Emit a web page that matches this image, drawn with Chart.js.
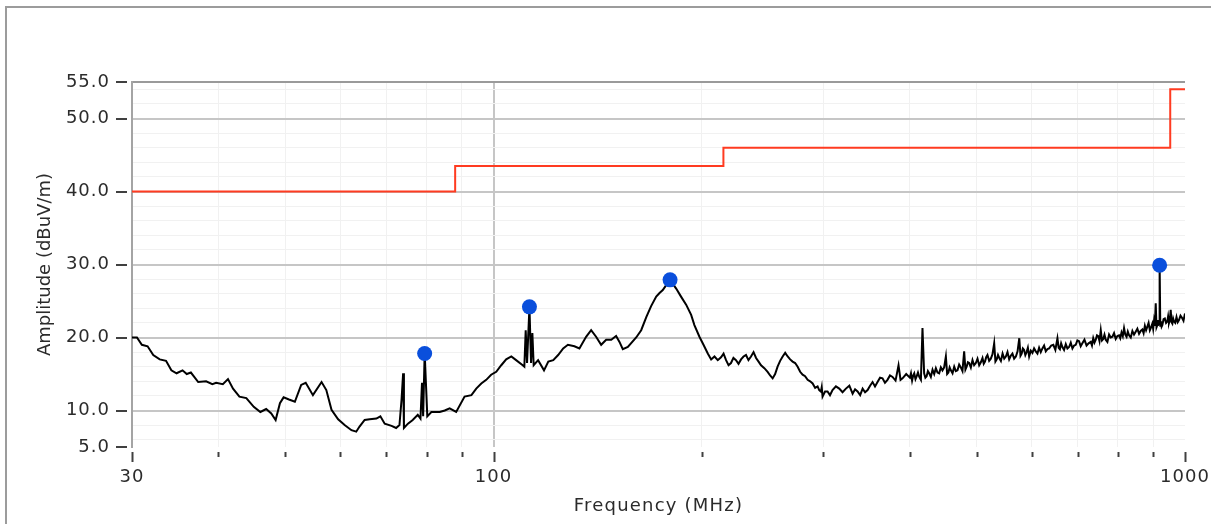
<!DOCTYPE html>
<html>
<head>
<meta charset="utf-8">
<script src="https://cdn.jsdelivr.net/npm/chart.js@4/dist/chart.umd.min.js"></script>
<style>
  html, body { margin: 0; padding: 0; background: #fff; overflow: hidden; }
  #frame { position: absolute; left: 5px; top: 6px; width: 1300px; height: 700px;
           border-left: 2px solid #9c9c9c; border-top: 2px solid #9c9c9c; }
  #wrap { position: absolute; left: 0; top: 0; width: 1211px; height: 524px; }
</style>
</head>
<body>
<div id="frame"></div>
<div id="wrap"><canvas id="emi" width="1211" height="524"></canvas></div>
<script>
// measured trace (MHz / dBuV/m), ten points per row
const traceFreq = [
  30, 30.5, 31.0, 31.6, 32.2, 32.9, 33.6, 34.2, 34.8, 35.5,
  36.0, 36.5, 37.4, 38.4, 39.2, 39.7, 40.6, 41.3, 42.0, 42.9,
  43.9, 45.0, 46.0, 46.9, 47.7, 48.4, 49.1, 49.7, 50.6, 51.6,
  52.7, 53.5, 54.8, 56.4, 57.3, 58.3, 59.6, 60.9, 62.3, 63.3,
  64.0, 65.1, 66.2, 67.7, 68.6, 69.6, 71.2, 72.3, 73.1, 73.6,
  74.0, 74.2, 75.2, 76.4, 77.7, 78.4, 78.8, 79.1, 79.5, 79.9,
  80.2, 81.3, 83.6, 85.0, 86.4, 88.3, 90.8, 92.9, 94.4, 96.0,
  97.6, 99.2, 100.9, 102.6, 104.3, 106.1, 107.8, 110.2, 110.8, 111.3,
  111.8, 112.7, 113.3, 113.8, 114.3, 116.0, 118.3, 120.0, 122.0, 124.0,
  126.1, 128.1, 130.9, 133.1, 136.1, 138.4, 140.7, 143.1, 145.5, 148.0,
  150.4, 152.1, 153.8, 156.4, 160.8, 163.5, 166.3, 169.0, 171.9, 173.8,
  175.7, 177.8, 180.0, 183.7, 186.7, 189.9, 193.1, 195.2, 198.5, 201.2,
  204.1, 206.4, 208.7, 211.0, 213.3, 215.1, 216.9, 218.7, 220.5, 222.3,
  224.2, 226.1, 228.0, 229.9, 231.8, 233.7, 235.7, 237.7, 239.7, 241.7,
  243.7, 246.4, 249.1, 251.2, 253.3, 255.4, 257.5, 259.7, 261.9, 264.1,
  266.3, 268.5, 270.7, 273.0, 275.3, 277.6, 279.9, 282.2, 284.6, 287.0,
  289.4, 291.8, 294.2, 295.8, 297.5, 298.3, 299.1, 301.6, 304.1, 306.6,
  309.2, 312.7, 316.2, 319.7, 323.3, 327.0, 330.6, 333.3, 336.1, 339.0,
  341.8, 344.6, 347.5, 350.4, 353.3, 356.2, 359.2, 362.2, 365.2, 368.2,
  371.3, 374.4, 377.6, 381.4, 385.2, 387.8, 390.4, 395.2, 400.0, 401.5,
  403.0, 404.5, 405.9, 407.6, 409.3, 411.0, 412.8, 415.0, 417.2, 419.5,
  421.2, 423.0, 424.8, 426.6, 429.0, 431.4, 433.8, 436.2, 438.6, 441.0,
  443.5, 445.9, 448.4, 451.0, 452.9, 454.8, 456.7, 458.6, 461.1, 463.7,
  466.2, 468.8, 471.4, 474.0, 476.6, 479.3, 481.3, 483.3, 485.3, 487.4,
  490.1, 492.8, 495.5, 498.3, 501.1, 503.9, 506.7, 509.5, 511.6, 513.7,
  515.8, 518.0, 520.9, 523.8, 526.7, 529.7, 531.9, 534.2, 536.5, 538.8,
  541.7, 544.7, 547.7, 550.7, 553.7, 556.8, 559.8, 562.9, 566.1, 569.4,
  572.6, 575.9, 578.2, 580.5, 582.8, 585.2, 587.6, 590.1, 592.6, 595.1,
  598.4, 601.7, 605.0, 608.4, 611.8, 615.2, 618.6, 622.0, 625.5, 629.0,
  632.5, 636.1, 640.5, 645.0, 649.4, 653.9, 656.6, 659.3, 662.0, 664.8,
  668.5, 672.3, 676.0, 679.8, 683.6, 687.4, 691.2, 695.0, 698.8, 702.7,
  706.6, 710.5, 715.5, 720.5, 725.5, 730.6, 733.6, 736.7, 739.8, 742.9,
  746.0, 749.1, 752.2, 755.4, 758.5, 761.7, 764.8, 768.0, 772.3, 776.6,
  780.9, 785.2, 789.6, 794.0, 798.4, 802.8, 806.1, 809.5, 812.9, 816.3,
  819.7, 823.2, 826.6, 830.1, 834.7, 839.3, 843.9, 848.6, 853.3, 858.1,
  862.8, 867.6, 871.2, 874.9, 878.5, 882.2, 885.8, 889.5, 893.2, 896.9,
  899.4, 902.0, 904.5, 907.1, 909.5, 912.0, 913.8, 915.5, 917.2, 919.0,
  921.0, 923.0, 925.1, 927.3, 931.1, 935.0, 938.9, 942.8, 945.4, 948.1,
  950.8, 953.5, 956.1, 958.8, 961.4, 964.1, 968.1, 972.1, 976.1, 980.2,
  985.1, 990.0, 995.0, 1000
];
const traceAmp = [
  20.0, 20.0, 19.0, 18.8, 17.6, 17.0, 16.8, 15.5, 15.1, 15.5,
  15.0, 15.2, 13.9, 14.0, 13.6, 13.8, 13.6, 14.3, 13.0, 11.9,
  11.7, 10.5, 9.8, 10.2, 9.6, 8.7, 11.0, 11.8, 11.5, 11.2,
  13.5, 13.8, 12.1, 13.9, 12.8, 10.1, 8.8, 8.0, 7.3, 7.1,
  7.8, 8.7, 8.8, 8.9, 9.2, 8.2, 7.9, 7.6, 8.0, 11.4,
  15.1, 7.6, 8.2, 8.7, 9.4, 8.9, 13.8, 9.2, 17.8, 13.0,
  9.2, 9.8, 9.8, 10.0, 10.3, 9.8, 11.9, 12.1, 13.0, 13.7,
  14.2, 14.9, 15.3, 16.2, 17.0, 17.4, 16.9, 16.2, 16.0, 21.0,
  16.5, 24.2, 16.5, 20.6, 16.2, 16.9, 15.5, 16.7, 16.9, 17.6,
  18.5, 19.0, 18.8, 18.5, 20.1, 21.0, 20.1, 19.0, 19.7, 19.7,
  20.2, 19.4, 18.4, 18.7, 20.0, 21.0, 22.8, 24.3, 25.6, 26.1,
  26.5, 27.2, 27.9, 26.7, 25.6, 24.5, 23.1, 21.7, 20.1, 19.0,
  17.8, 17.0, 17.4, 16.9, 17.3, 17.8, 16.9, 16.2, 16.5, 17.2,
  16.9, 16.4, 17.0, 17.4, 17.6, 16.9, 17.4, 18.0, 17.2, 16.7,
  16.2, 15.8, 15.3, 14.8, 14.4, 15.0, 16.0, 16.8, 17.4, 17.9,
  17.4, 17.0, 16.7, 16.5, 16.0, 15.3, 14.9, 14.7, 14.2, 14.0,
  13.7, 13.1, 13.3, 12.8, 12.6, 13.2, 11.9, 12.6, 12.6, 12.1,
  12.8, 13.3, 13.0, 12.5, 13.0, 13.4, 12.3, 12.9, 12.6, 12.1,
  13.0, 12.5, 12.8, 13.4, 13.9, 13.3, 13.9, 14.5, 14.4, 13.8,
  14.2, 14.8, 14.6, 14.1, 16.2, 14.2, 14.4, 15.0, 14.5, 15.1,
  14.1, 14.8, 15.1, 14.3, 14.7, 15.2, 14.6, 14.2, 21.3, 15.1,
  14.5, 14.7, 15.4, 15.1, 14.6, 15.6, 15.0, 15.8, 15.2, 15.1,
  15.9, 15.5, 15.9, 17.4, 15.0, 15.2, 15.9, 15.5, 15.1, 16.0,
  15.4, 15.5, 16.3, 15.9, 15.4, 18.1, 15.6, 16.0, 16.6, 16.5,
  15.9, 16.9, 16.2, 16.5, 17.1, 16.2, 16.6, 17.2, 16.4, 16.7,
  17.3, 17.6, 16.8, 17.1, 17.7, 19.2, 16.7, 17.0, 17.6, 17.2,
  16.8, 17.8, 17.1, 17.4, 18.0, 17.0, 17.5, 17.8, 17.1, 17.4,
  18.1, 19.9, 17.5, 17.8, 18.5, 18.3, 17.6, 18.0, 18.6, 17.4,
  18.2, 17.9, 18.5, 18.1, 17.8, 18.6, 18.0, 18.5, 18.9, 18.1,
  18.4, 18.5, 18.9, 19.0, 18.3, 19.9, 18.6, 18.4, 19.2, 18.7,
  18.3, 19.1, 18.5, 18.7, 19.3, 18.5, 18.9, 19.0, 19.6, 19.5,
  18.8, 19.2, 19.7, 18.9, 19.2, 19.4, 18.9, 19.9, 19.3, 19.7,
  20.3, 20.2, 19.5, 21.0, 19.6, 19.8, 20.4, 19.7, 19.4, 20.4,
  20.0, 20.1, 20.6, 19.8, 20.2, 20.3, 19.9, 20.7, 20.2, 21.3,
  20.4, 20.1, 20.8, 20.3, 20.0, 20.9, 20.4, 20.8, 21.2, 20.5,
  20.9, 21.1, 20.6, 21.6, 21.0, 21.5, 22.0, 21.0, 21.4, 21.9,
  21.2, 22.3, 21.6, 24.7, 21.4, 21.7, 22.4, 22.0, 21.8, 29.9,
  21.6, 22.2, 21.5, 21.7, 22.5, 22.6, 22.0, 22.2, 22.9, 22.0,
  22.4, 23.8, 22.1, 21.9, 22.6, 22.2, 22.0, 22.8, 22.1, 22.4,
  23.0, 22.7, 22.3, 23.3
];

// peak markers
const peakFreq = [79.5, 112.7, 180.0, 919.0];
const peakAmp = [17.8, 24.2, 27.9, 29.9];

// limit line, each level holds until the next break frequency
const limitFreq = [30, 88, 215, 952, 1000];
const limitLevel = [40.0, 43.5, 46.0, 54.0, 54.0];

// axis ticks
const yTickValues = [5, 10, 20, 30, 40, 50, 55];
const xTickLabels = [30, 100, 1000];
const xMinorTicks = [40, 50, 60, 70, 80, 90, 200, 300, 400, 500, 600, 700, 800, 900];

const FONT = 'DejaVu Sans';
const TEXT = '#2b2b2b';

const toPoints = (xs, ys) => xs.map((x, i) => ({ x: x, y: ys[i] }));

// every 2 dB a faint line, labelled values get the darker ones
const yGrid = [];
for (let v = 5; v <= 55; v++) {
  if (yTickValues.includes(v) || v % 2 === 0) yGrid.push(v);
}
const xGrid = xTickLabels.concat(xMinorTicks).sort((a, b) => a - b);

const yGridColor = (v) => {
  if (v === 55) return '#9a9a9a';
  if (v === 5) return 'rgba(0,0,0,0)';
  if (yTickValues.includes(v)) return '#c6c6c6';
  return '#f1f1f1';
};
const xGridColor = (v) => {
  if (v === 30 || v === 1000) return 'rgba(0,0,0,0)';
  if (v === 100) return '#c6c6c6';
  return '#f1f1f1';
};

// tick dashes outside the plot, plus both axis titles
const axisDecor = {
  id: 'axisDecor',
  beforeDraw(chart) {
    chart.ctx.letterSpacing = '1px';
  },
  afterDraw(chart) {
    const { ctx, chartArea, scales } = chart;
    ctx.save();
    ctx.strokeStyle = '#404040';
    ctx.lineWidth = 2;
    yTickValues.forEach((v) => {
      const py = Math.round(scales.y.getPixelForValue(v));
      ctx.beginPath();
      ctx.moveTo(chartArea.left - 16, py);
      ctx.lineTo(chartArea.left - 5, py);
      ctx.stroke();
    });
    xGrid.forEach((v) => {
      const px = Math.round(scales.x.getPixelForValue(v)) + 0.5;
      const len = xTickLabels.includes(v) ? 10 : 5;
      ctx.beginPath();
      ctx.moveTo(px, chartArea.bottom + 5);
      ctx.lineTo(px, chartArea.bottom + 5 + len);
      ctx.stroke();
    });

    ctx.fillStyle = TEXT;
    ctx.font = '18px "' + FONT + '"';
    ctx.textAlign = 'center';
    ctx.textBaseline = 'middle';
    ctx.letterSpacing = '1.2px';
    ctx.fillText('Frequency (MHz)', (chartArea.left + chartArea.right) / 2, 506);

    ctx.letterSpacing = '0px';
    ctx.translate(45, (chartArea.top + chartArea.bottom) / 2);
    ctx.rotate(-Math.PI / 2);
    ctx.fillText('Amplitude (dBuV/m)', 0, 0);
    ctx.restore();
  }
};

new Chart(document.getElementById('emi').getContext('2d'), {
  type: 'scatter',
  data: {
    datasets: [
      {
        label: 'Peaks',
        data: toPoints(peakFreq, peakAmp),
        showLine: false,
        pointRadius: 7.5,
        pointBackgroundColor: '#0a4fdc',
        pointBorderWidth: 0,
        order: 0
      },
      {
        label: 'Trace',
        data: toPoints(traceFreq, traceAmp),
        showLine: true,
        borderColor: '#000000',
        borderWidth: 2,
        pointRadius: 0,
        tension: 0,
        order: 1
      },
      {
        label: 'Limit',
        data: toPoints(limitFreq, limitLevel),
        showLine: true,
        stepped: 'before',
        borderColor: '#ff3b21',
        borderWidth: 2,
        pointRadius: 0,
        order: 2
      }
    ]
  },
  options: {
    responsive: false,
    animation: false,
    devicePixelRatio: 1,
    layout: { padding: { left: 0, top: 82, right: 26, bottom: 0 } },
    plugins: { legend: { display: false }, tooltip: { enabled: false } },
    scales: {
      x: {
        type: 'logarithmic',
        min: 30,
        max: 1000,
        afterBuildTicks: (s) => { s.ticks = xGrid.map((v) => ({ value: v })); },
        afterFit: (s) => {
          s.height = 77;
          s.paddingLeft = 0;
          s.paddingRight = 0;
        },
        border: { display: false },
        grid: {
          drawTicks: false,
          color: (c) => xGridColor(c.tick.value),
          lineWidth: (c) => (c.tick.value === 100 ? 2 : 1)
        },
        ticks: {
          autoSkip: false,
          maxRotation: 0,
          padding: 20,
          color: TEXT,
          font: { family: FONT, size: 18 },
          callback: (v) => (xTickLabels.includes(v) ? String(v) : '')
        }
      },
      y: {
        min: 5,
        max: 55,
        afterBuildTicks: (s) => { s.ticks = yGrid.map((v) => ({ value: v })); },
        afterFit: (s) => {
          s.width = 132;
          s.paddingTop = 0;
          s.paddingBottom = 0;
        },
        border: { display: true, color: '#a4a4a4', width: 2 },
        grid: {
          drawTicks: false,
          color: (c) => yGridColor(c.tick.value),
          lineWidth: (c) => (yTickValues.includes(c.tick.value) ? 2 : 1)
        },
        ticks: {
          autoSkip: false,
          padding: 22,
          color: TEXT,
          font: { family: FONT, size: 18 },
          callback: (v) => (yTickValues.includes(v) ? v.toFixed(1) : '')
        }
      }
    }
  },
  plugins: [axisDecor]
});
</script>
</body>
</html>
